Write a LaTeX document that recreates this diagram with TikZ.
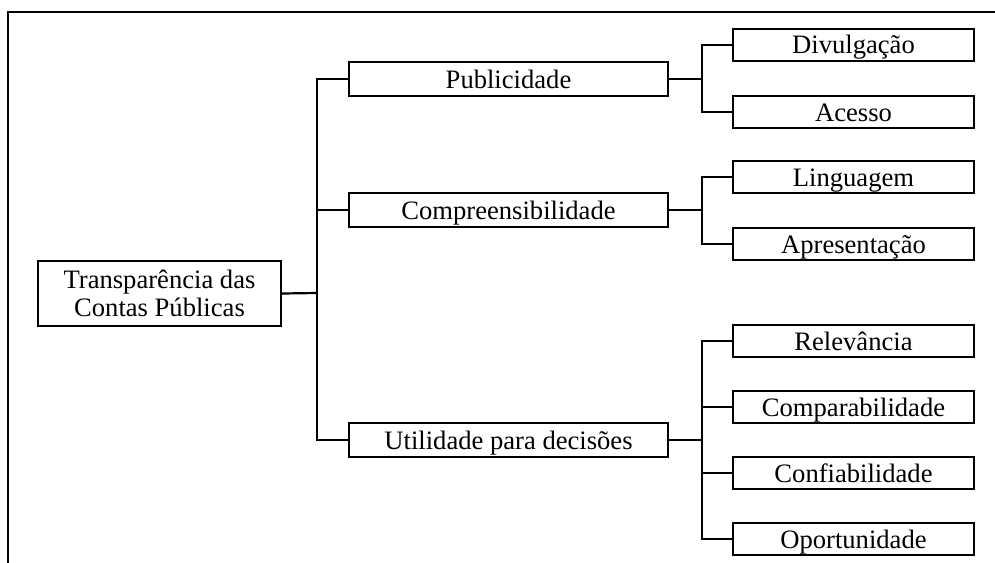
\documentclass[tikz,border=0pt]{standalone}
\usepackage{fontspec}
\setmainfont{Liberation Serif}
\usepackage{tikz}
\tikzset{
  caixa/.style={draw, line width=1.1pt, inner sep=0pt, font=\fontsize{13.3}{14}\selectfont},
  raiz/.style={caixa, minimum width=121.5pt, minimum height=32.5pt, align=center},
  ramo/.style={caixa, minimum width=159.5pt, minimum height=17pt, text height=12pt, text depth=3pt},
  folha/.style={caixa, minimum width=120.5pt, minimum height=16pt, text height=12pt, text depth=3pt},
  liga/.style={line width=1.1pt}
}

\begin{document}
\begin{tikzpicture}[x=0.5pt,y=-0.5pt]
                \useasboundingbox (0,0) rectangle (995,562);
                % Moldura
                \draw[liga] (8,563) -- (8,12) -- (996,12);

                % Raiz
                \node[raiz] (raiz) at (159.5,293.5) {Transparência das\\Contas Públicas};

                % Ramos
                \node[ramo] (pub) at (508.5,79) {Publicidade};
                \node[ramo] (comp) at (508.5,210) {Compreensibilidade};
                \node[ramo] (util) at (508.5,440) {Utilidade para decisões};

                % Folhas
                \node[folha] (divul) at (853.5,45) {Divulgação};
                \node[folha] (acesso) at (853.5,112) {Acesso};

                \node[folha] (ling) at (853.5,177) {Linguagem};
                \node[folha] (apres) at (853.5,244) {Apresentação};

                \node[folha] (relev) at (853.5,341) {Relevância};
                \node[folha] (compar) at (853.5,407) {Comparabilidade};
                \node[folha] (confi) at (853.5,473) {Confiabilidade};
                \node[folha] (oport) at (853.5,539) {Oportunidade};

                % Junções
                \coordinate (j0) at (317,293);
                \coordinate (j1) at (702,79);
                \coordinate (j2) at (702,210);
                \coordinate (j3) at (702,440);

                % Ligações
                \draw[liga] (raiz.east) -- (j0);
                \draw[liga] (pub.west) -| (j0) |- (util.west);
                \draw[liga] (comp.west) -- (comp.west -| j0);

                \draw[liga] (pub.east) -- (j1);
                \draw[liga] (divul.west) -| (j1) |- (acesso.west);

                \draw[liga] (comp.east) -- (j2);
                \draw[liga] (ling.west) -| (j2) |- (apres.west);

                \draw[liga] (util.east) -- (j3);
                \draw[liga] (relev.west) -| (j3) |- (oport.west);
                \draw[liga] (compar.west) -- (compar.west -| j3);
                \draw[liga] (confi.west) -- (confi.west -| j3);
\end{tikzpicture}
\end{document}
